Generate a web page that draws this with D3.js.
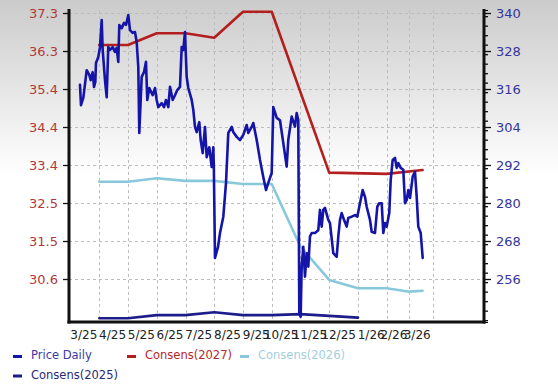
<!DOCTYPE html>
<html><head><meta charset="utf-8">
<script src="https://cdn.jsdelivr.net/npm/d3@7"></script>
<style>html,body{margin:0;padding:0;background:#fff}svg{display:block}</style>
</head><body><svg id="c" width="558" height="388"></svg>
<script>
// x positions are in "month units" (0 = 3/25 gridline)
const xTickLabels = ["3/25","4/25","5/25","6/25","7/25","8/25","9/25","10/25","11/25","12/25","1/26","2/26","3/26"];
const xTickPos = [0,1,2,3,4,5,6,7,8,9,10,10.79,11.6];
const leftTickLabels = ["37.3","36.3","35.4","34.4","33.4","32.5","31.5","30.6"];
const rightTicks = [340,328,316,304,292,280,268,256];

const priceX = [-0.672,-0.637,-0.557,-0.438,-0.348,-0.299,-0.230,-0.184,-0.139,-0.115,-0.035,0.024,0.084,0.118,0.198,0.257,0.313,0.372,0.466,0.546,0.605,0.661,0.696,0.779,0.859,0.929,1.009,1.068,1.162,1.242,1.301,1.357,1.392,1.475,1.555,1.625,1.670,1.740,1.858,1.938,1.997,2.053,2.171,2.251,2.321,2.401,2.460,2.554,2.634,2.714,2.808,2.867,2.923,2.982,3.041,3.097,3.215,3.271,3.330,3.389,3.479,3.528,3.598,3.678,3.737,3.827,3.911,3.967,3.985,4.026,4.131,4.200,4.315,4.409,4.489,4.607,4.662,4.781,4.896,5.010,5.129,5.184,5.303,5.358,5.477,5.592,5.706,5.800,5.880,5.999,6.054,6.173,6.288,6.402,6.520,6.576,6.694,6.809,6.868,6.924,6.959,7.007,7.042,7.098,7.157,7.216,7.272,7.331,7.390,7.505,7.620,7.679,7.738,7.794,7.853,7.968,8.027,8.142,8.260,8.316,8.375,8.434,8.514,8.608,8.664,8.782,8.897,8.977,9.071,9.165,9.245,9.304,9.419,9.478,9.593,9.673,9.743,9.826,9.882,9.941,10.000,10.090,10.139,10.209,10.289,10.348,10.404,10.487,10.578,10.637,10.696,10.752,10.811,10.905,10.985,11.044,11.100,11.183,11.253];
const priceY = [35.49,34.98,35.16,35.86,35.74,35.61,35.81,35.44,35.56,36.04,36.19,36.44,37.12,36.37,35.61,35.18,36.44,36.37,36.44,36.32,36.42,36.07,37.00,36.92,37.05,37.00,37.25,36.87,36.80,36.82,36.57,35.94,34.28,35.69,35.81,36.07,35.11,35.41,35.23,35.41,35.11,34.93,35.03,34.93,35.11,34.93,35.44,35.11,35.23,35.36,35.44,36.44,36.37,36.82,35.69,35.41,35.11,34.86,34.43,34.30,34.55,34.10,33.77,34.43,33.67,33.92,33.42,33.92,33.47,31.13,31.41,31.76,32.17,33.02,34.28,34.43,34.30,34.18,34.10,34.23,34.48,34.28,34.43,34.53,34.10,33.60,33.17,32.84,33.02,33.27,34.93,34.66,34.60,34.03,33.43,34.10,34.69,34.44,34.78,34.60,29.74,29.65,30.91,31.41,30.66,31.25,30.91,31.67,31.76,31.76,31.83,32.34,31.92,32.34,32.39,32.09,32.01,31.25,31.16,31.67,32.09,32.26,32.09,31.92,32.14,32.17,32.21,32.17,32.51,32.84,32.67,32.42,32.09,31.79,31.76,32.42,32.51,32.51,31.76,32.01,31.92,32.26,33.09,33.60,33.65,33.40,33.52,33.40,33.35,32.51,32.59,32.84,32.64,33.18,33.30,32.67,31.92,31.76,31.13];

const c2027X = [0,1,2,3,4,5,6,8,10,11.25];
const c2027Y = [329.9,329.9,333.6,333.6,332.2,340.4,340.4,289.6,289.2,290.4];
const c2026X = [0,1,2,3,4,5,6,7,8,9,10,10.79,11.25];
const c2026Y = [286.7,286.7,287.8,287.0,287.0,286.0,286.0,266.2,255.7,253.1,253.1,252.0,252.3];
const c2025X = [0,1,2,3,4,5,6,7,9];
const c2025Y = [243.6,243.6,244.6,244.6,245.5,244.6,244.6,244.9,243.8];

const seriesNames = ["Price Daily","Consens(2027)","Consens(2026)","Consens(2025)"];
const seriesColors = ["#1414a8","#b41e1e","#88c8dc","#1c1c8a"];
const legendText = ["#3a3aa8","#b42828","#9fcfe0","#28287a"];

const svg = d3.select("#c");
const L = 69, R = 484, T = 10, B = 322;

const defs = svg.append("defs");
const g = defs.append("linearGradient").attr("id","bg").attr("x1",0).attr("y1",0).attr("x2",0).attr("y2",1);
g.append("stop").attr("offset","0%").attr("stop-color","#cbcbcb");
g.append("stop").attr("offset","45%").attr("stop-color","#ffffff");
g.append("stop").attr("offset","100%").attr("stop-color","#ffffff");
svg.append("rect").attr("width",558).attr("height",388).attr("fill","url(#bg)");

const x = d3.scaleLinear().domain([-1.054,13.386]).range([L,R]);
const yR = d3.scaleLinear().domain([242.42,340.95]).range([B,T]);
const yL = d3.scaleLinear().domain([29.517,37.376]).range([B,T]);
const leftTickVals = leftTickLabels.map((d,i)=>37.3 - i*(37.3-30.6)/7);

// grid
const grid = svg.append("g").attr("stroke","#bdbdbd").attr("stroke-dasharray","3,3").attr("stroke-width",1);
rightTicks.forEach(v=>grid.append("line").attr("x1",L).attr("x2",R).attr("y1",Math.round(yR(v))+0.5).attr("y2",Math.round(yR(v))+0.5));
xTickPos.forEach(v=>grid.append("line").attr("y1",T).attr("y2",B).attr("x1",Math.round(x(v))+0.5).attr("x2",Math.round(x(v))+0.5));

function draw(xs, ys, yScale, color){
  const pts = xs.map((d,i)=>[d, ys[i]]);
  svg.append("path").datum(pts).attr("fill","none").attr("stroke",color).attr("stroke-width",2.6)
    .attr("stroke-linejoin","round").attr("stroke-linecap","round")
    .attr("d", d3.line().x(d=>x(d[0])).y(d=>yScale(d[1])));
}
draw(c2025X,c2025Y,yR,seriesColors[3]);
draw(c2026X,c2026Y,yR,seriesColors[2]);
draw(c2027X,c2027Y,yR,seriesColors[1]);
draw(priceX,priceY,yL,seriesColors[0]);

// axes
const axL = svg.append("g").attr("transform",`translate(${L},0)`)
  .call(d3.axisLeft(yL).tickValues(leftTickVals).tickFormat((d,i)=>leftTickLabels[i]).tickSize(6).tickPadding(5));
const axR = svg.append("g").attr("transform",`translate(${R},0)`)
  .call(d3.axisRight(yR).tickValues(rightTicks).tickSize(7).tickPadding(5));
const minor = d3.range(243, 341, 3).filter(v=>rightTicks.indexOf(v)<0);
svg.append("g").attr("transform",`translate(${R},0)`)
  .call(d3.axisRight(yR).tickValues(minor).tickSize(4).tickFormat(""));
[axL,axR].forEach(a=>{a.select(".domain").remove();});
svg.selectAll(".tick line").attr("stroke","#111").attr("stroke-width",1.3);
axL.selectAll("text").attr("fill","#b03a3a").style("font","13px 'DejaVu Sans'");
axR.selectAll("text").attr("fill","#3535a0").style("font","13px 'DejaVu Sans'");

// x labels
const xl = svg.append("g");
xTickPos.forEach((v,i)=>xl.append("text").attr("x",x(v)-2).attr("y",339).attr("text-anchor","end")
  .attr("fill","#222").style("font","12px 'DejaVu Sans'").text(xTickLabels[i]));

// frame lines
svg.append("line").attr("x1",L).attr("x2",L).attr("y1",T-1).attr("y2",B+1.5).attr("stroke","#111").attr("stroke-width",3);
svg.append("line").attr("x1",R).attr("x2",R).attr("y1",T-1).attr("y2",B+1.5).attr("stroke","#111").attr("stroke-width",3);
svg.append("line").attr("x1",L-1.5).attr("x2",R+1.5).attr("y1",B).attr("y2",B).attr("stroke","#111").attr("stroke-width",3);

// legend
const legPos = [[13,359],[127,359],[240,359],[13,378.5]];
seriesNames.forEach((n,i)=>{
  const [lx,ly]=legPos[i];
  svg.append("rect").attr("x",lx).attr("y",ly-4).attr("width",9).attr("height",3).attr("fill",seriesColors[i]);
  svg.append("text").attr("x",lx+18).attr("y",ly).attr("fill",legendText[i]).style("font","11.5px 'DejaVu Sans'").text(n);
});
</script></body></html>
